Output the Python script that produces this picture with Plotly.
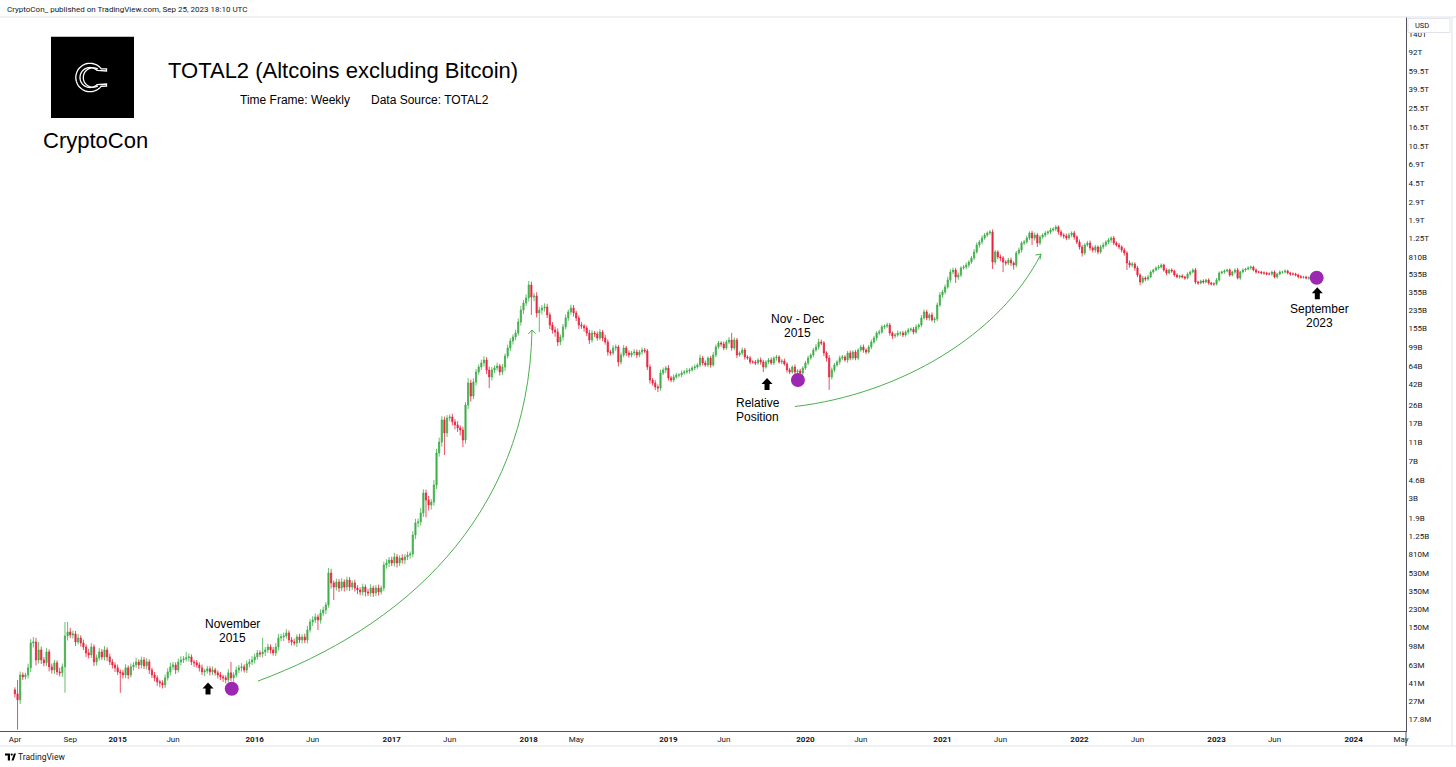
import numpy as np
import pandas as pd
import plotly.graph_objects as go

# ---------------- DATA (weekly TOTAL2, values in billions USD) ----------------
start_date = "2014-04-07"
first_open = 0.0352
close_b = [
    0.0321, 0.0279, 0.0498, 0.0476, 0.0498, 0.0586, 0.1045, 0.1070, 0.0705, 0.0889,
    0.0705, 0.0658, 0.0849, 0.0600, 0.0559, 0.0658, 0.0534, 0.0522, 0.0600, 0.1229,
    0.1349, 0.1258, 0.1288, 0.1070, 0.1174, 0.1045, 0.0953, 0.0829, 0.0792, 0.0953,
    0.0673, 0.0739, 0.0849, 0.0756, 0.0889, 0.0756, 0.0673, 0.0628, 0.0586, 0.0534,
    0.0522, 0.0498, 0.0586, 0.0498, 0.0600, 0.0628, 0.0673, 0.0628, 0.0705, 0.0614,
    0.0673, 0.0559, 0.0498, 0.0465, 0.0424, 0.0414, 0.0395, 0.0465, 0.0534, 0.0600,
    0.0628, 0.0559, 0.0673, 0.0705, 0.0722, 0.0739, 0.0756, 0.0673, 0.0658, 0.0628,
    0.0586, 0.0534, 0.0546, 0.0573, 0.0534, 0.0559, 0.0522, 0.0498, 0.0476, 0.0465,
    0.0444, 0.0522, 0.0465, 0.0498, 0.0559, 0.0586, 0.0600, 0.0559, 0.0643, 0.0673,
    0.0705, 0.0756, 0.0829, 0.0810, 0.0849, 0.0889, 0.0953, 0.0889, 0.0829, 0.0953,
    0.1174, 0.1201, 0.1229, 0.1318, 0.1120, 0.1070, 0.1045, 0.1201, 0.1120, 0.1201,
    0.1120, 0.1413, 0.170, 0.178, 0.191, 0.178, 0.209, 0.224, 0.252, 0.529,
    0.420, 0.382, 0.430, 0.373, 0.430, 0.382, 0.450, 0.382, 0.420, 0.373,
    0.357, 0.341, 0.382, 0.341, 0.333, 0.373, 0.333, 0.373, 0.341, 0.373,
    0.637, 0.667, 0.715, 0.667, 0.767, 0.667, 0.749, 0.715, 0.767, 0.803,
    0.821, 1.276, 1.69, 1.73, 2.13, 3.38, 2.87, 2.56, 2.74, 4.07,
    8.55, 11.0, 18.4, 13.6, 19.2, 19.7, 17.6, 16.4, 15.3, 14.6,
    11.55, 26.0, 43.3, 32.0, 44.3, 56.0, 62.8, 68.9, 73.9, 58.6,
    49.9, 58.6, 61.4, 64.3, 56.0, 62.8, 81.0, 97.6, 114.7, 125.9,
    138, 178, 235, 277, 311, 420, 318, 326, 220, 235,
    247, 252, 210, 166, 148, 141, 112, 126, 159, 196,
    225, 247, 220, 196, 166, 162, 155, 138, 117.4, 138,
    135, 123, 141, 123, 112, 88.9, 86.9, 97.6, 99.9, 70.6,
    82.9, 97.6, 86.9, 82.9, 86.9, 88.9, 82.9, 88.9, 93.1, 91.0,
    62.8, 46.4, 43.3, 39.5, 38.6, 54.7, 58.6, 61.4, 48.7, 46.4,
    49.9, 52.2, 52.2, 54.7, 56.0, 57.3, 58.6, 61.4, 62.8, 65.8,
    77.3, 68.9, 65.8, 77.3, 65.8, 82.9, 99.9, 109.5, 107, 97.6,
    112, 117.4, 97.6, 117.4, 82.9, 86.9, 93.1, 79.2, 77.3, 70.6,
    70.6, 68.9, 73.9, 70.6, 62.8, 70.6, 73.9, 68.9, 77.3, 79.2,
    70.6, 72.2, 67.4, 58.6, 56.0, 62.8, 56.0, 57.3, 54.7, 61.4,
    68.9, 77.3, 82.9, 93.1, 99.9, 112, 109.5, 86.9, 77.3, 49.9,
    58.6, 65.8, 70.6, 77.3, 79.2, 73.9, 86.9, 77.3, 88.9, 77.3,
    93.1, 99.9, 93.1, 88.9, 99.9, 112, 123, 138, 141, 159,
    162, 166, 138, 129, 131.8, 138, 138, 132, 141, 148,
    151, 141, 159, 166, 196, 225, 196, 210, 187, 191,
    264, 333, 357, 401, 472, 568, 595, 506, 530, 624,
    638, 668, 717, 786, 904, 1063, 1139, 1250, 1340, 1403,
    1437, 717, 904, 805, 786, 717, 700, 750, 700, 668,
    883, 946, 1113, 1139, 1250, 1403, 1250, 1340, 1113, 1280,
    1340, 1403, 1437, 1505, 1540, 1614, 1437, 1340, 1310, 1250,
    1340, 1403, 1280, 1139, 1015, 883, 1063, 1113, 992, 946,
    1015, 904, 1015, 1063, 1139, 1193, 1250, 1113, 1063, 1015,
    946, 883, 700, 668, 684, 624, 530, 451, 494, 483,
    506, 568, 595, 624, 638, 668, 595, 555, 595, 581,
    530, 506, 518, 506, 494, 542, 568, 595, 451, 440,
    461, 451, 472, 440, 430, 430, 472, 555, 568, 581,
    595, 530, 568, 595, 494, 568, 595, 609, 624, 638,
    595, 568, 568, 555, 555, 542, 542, 568, 506, 542,
    568, 568, 581, 555, 542, 542, 530, 510, 502, 505,
    495, 498, 492, 495, 493,
]
# upper / lower wick length of each weekly candle, percent of body edge
wick_up_pct = [
    6, 38, 8, 6, 5, 10, 9, 12, 10, 20,
    8, 7, 9, 6, 8, 7, 6, 10, 8, 38,
    26, 10, 8, 7, 9, 6, 8, 7, 10, 9,
    6, 8, 10, 7, 9, 6, 8, 7, 6, 8,
    6, 7, 9, 6, 8, 7, 10, 6, 8, 7,
    9, 6, 5, 7, 6, 5, 6, 8, 9, 10,
    7, 6, 8, 9, 7, 15, 8, 6, 5, 7,
    6, 8, 5, 7, 6, 8, 5, 6, 7, 5,
    6, 9, 29, 6, 8, 7, 9, 6, 8, 7,
    9, 8, 7, 6, 38, 7, 8, 6, 7, 9,
    10, 7, 8, 9, 6, 7, 8, 6, 7, 6,
    8, 10, 7, 9, 8, 6, 9, 8, 7, 12,
    10, 6, 8, 7, 9, 6, 8, 7, 6, 8,
    7, 6, 8, 6, 7, 9, 6, 7, 8, 6,
    8, 9, 7, 8, 10, 7, 6, 9, 7, 8,
    6, 9, 10, 8, 12, 9, 8, 10, 7, 12,
    10, 11, 9, 8, 7, 6, 8, 7, 9, 6,
    8, 7, 12, 8, 9, 7, 6, 8, 9, 7,
    8, 7, 6, 8, 5, 7, 6, 8, 7, 6,
    8, 9, 10, 7, 9, 10, 8, 7, 9, 8,
    7, 9, 8, 6, 7, 8, 9, 6, 7, 8,
    6, 8, 7, 5, 6, 7, 5, 6, 8, 7,
    5, 6, 7, 5, 8, 6, 5, 7, 6, 5,
    6, 7, 5, 6, 5, 7, 6, 5, 6, 5,
    5, 6, 5, 7, 6, 8, 6, 5, 7, 5,
    6, 5, 4, 6, 5, 7, 4, 5, 6, 4,
    8, 5, 6, 4, 5, 7, 6, 5, 4, 6,
    5, 7, 18, 6, 5, 4, 6, 5, 4, 5,
    4, 5, 4, 6, 5, 4, 5, 6, 4, 5,
    4, 5, 6, 4, 5, 4, 6, 4, 5, 4,
    5, 6, 4, 5, 7, 8, 6, 5, 4, 7,
    6, 5, 4, 6, 5, 4, 5, 6, 4, 5,
    4, 5, 6, 4, 5, 6, 5, 4, 6, 5,
    4, 6, 5, 4, 5, 6, 4, 5, 4, 5,
    4, 5, 6, 4, 7, 6, 5, 4, 6, 5,
    6, 7, 5, 6, 8, 7, 6, 5, 6, 4,
    5, 6, 4, 5, 7, 6, 5, 6, 5, 4,
    5, 6, 5, 4, 6, 5, 4, 5, 6, 4,
    5, 6, 4, 5, 6, 4, 5, 6, 5, 4,
    4, 5, 4, 5, 4, 5, 4, 5, 4, 6,
    5, 4, 5, 4, 6, 5, 4, 5, 6, 4,
    5, 4, 5, 6, 4, 5, 4, 5, 4, 5,
    4, 5, 4, 6, 5, 4, 5, 4, 5, 4,
    5, 4, 3, 4, 5, 4, 3, 4, 3, 4,
    3, 4, 3, 4, 3, 4, 3, 4, 5, 3,
    3, 4, 3, 4, 3, 4, 5, 4, 3, 4,
    3, 4, 3, 4, 5, 3, 4, 3, 4, 3,
    3, 4, 3, 3, 4, 3, 4, 3, 4, 3,
    4, 3, 4, 3, 3, 4, 3, 3, 4, 3,
    3, 3, 4, 3, 3,
]
wick_dn_pct = [
    8, 50, 9, 7, 6, 8, 9, 10, 12, 8,
    9, 8, 7, 10, 8, 9, 7, 8, 9, 45,
    10, 7, 8, 9, 6, 8, 7, 9, 8, 7,
    9, 8, 6, 7, 8, 9, 7, 8, 9, 7,
    37, 8, 7, 9, 6, 8, 7, 9, 8, 7,
    8, 9, 7, 8, 9, 10, 8, 7, 6, 8,
    7, 9, 6, 8, 7, 6, 8, 7, 9, 6,
    8, 7, 9, 6, 8, 7, 6, 8, 7, 9,
    8, 6, 7, 9, 6, 7, 8, 6, 7, 8,
    7, 8, 6, 7, 8, 9, 7, 8, 6, 7,
    8, 7, 9, 6, 7, 8, 6, 9, 7, 8,
    7, 8, 6, 9, 7, 21, 8, 7, 9, 6,
    12, 26, 8, 9, 7, 10, 8, 9, 7, 8,
    9, 7, 8, 10, 7, 8, 9, 7, 8, 6,
    7, 8, 9, 7, 8, 10, 7, 8, 9, 7,
    8, 7, 9, 10, 8, 9, 33, 12, 10, 8,
    9, 8, 10, 40, 9, 7, 8, 10, 9, 12,
    15, 8, 9, 12, 7, 8, 6, 7, 8, 9,
    23, 8, 7, 6, 8, 7, 9, 6, 7, 8,
    7, 6, 8, 9, 7, 8, 34, 9, 10, 36,
    10, 8, 7, 9, 8, 10, 9, 7, 8, 6,
    7, 6, 8, 7, 9, 6, 8, 7, 9, 6,
    7, 6, 5, 7, 6, 8, 6, 5, 7, 10,
    6, 5, 7, 6, 5, 6, 7, 5, 6, 5,
    7, 8, 6, 7, 9, 6, 5, 7, 6, 5,
    5, 4, 6, 5, 4, 5, 6, 4, 5, 4,
    5, 6, 4, 5, 6, 4, 5, 4, 6, 5,
    4, 5, 6, 5, 7, 4, 5, 6, 4, 5,
    4, 5, 4, 6, 11, 4, 5, 4, 5, 6,
    4, 5, 4, 6, 5, 4, 5, 6, 4, 5,
    4, 5, 4, 5, 4, 6, 5, 7, 8, 26,
    6, 5, 4, 6, 5, 4, 6, 5, 4, 5,
    5, 4, 6, 5, 4, 5, 4, 6, 5, 4,
    5, 4, 6, 7, 5, 4, 6, 5, 4, 5,
    4, 5, 4, 6, 5, 4, 5, 6, 4, 7,
    5, 4, 6, 5, 4, 6, 5, 13, 6, 5,
    4, 5, 6, 4, 5, 4, 6, 5, 4, 5,
    4, 15, 6, 5, 7, 21, 6, 5, 7, 10,
    5, 4, 6, 5, 4, 5, 15, 6, 9, 5,
    4, 5, 4, 5, 4, 5, 6, 5, 6, 5,
    4, 5, 6, 5, 6, 8, 5, 4, 6, 5,
    6, 5, 4, 5, 4, 5, 6, 5, 4, 5,
    5, 6, 15, 6, 5, 6, 5, 7, 4, 5,
    4, 3, 4, 3, 4, 3, 4, 5, 3, 4,
    4, 3, 4, 3, 4, 3, 4, 3, 5, 4,
    3, 4, 3, 4, 3, 4, 3, 4, 3, 4,
    3, 4, 3, 4, 3, 4, 3, 4, 3, 4,
    3, 4, 3, 3, 4, 3, 3, 4, 3, 4,
    3, 4, 3, 3, 4, 3, 3, 4, 3, 3,
    3, 4, 3, 3, 3,
]

ytick_vals = [0.0178, 0.027, 0.041, 0.063, 0.098, 0.15, 0.23, 0.35, 0.53, 0.81,
              1.25, 1.9, 3, 4.6, 7, 11, 17, 26, 42, 64, 99, 155, 235, 355, 535, 810,
              1250, 1900, 2900, 4500, 6900, 10500, 16500, 25500, 39500, 59500, 92000, 140000]
ytick_text = ["17.8M", "27M", "41M", "63M", "98M", "150M", "230M", "350M", "530M", "810M",
              "1.25B", "1.9B", "3B", "4.6B", "7B", "11B", "17B", "26B", "42B", "64B", "99B",
              "155B", "235B", "355B", "535B", "810B", "1.25T", "1.9T", "2.9T", "4.5T", "6.9T",
              "10.5T", "16.5T", "25.5T", "39.5T", "59.5T", "92T", "140T"]
xtick_dates = ["2014-04-07", "2014-09-01", "2015-01-05", "2015-06-01", "2016-01-04", "2016-06-06",
               "2017-01-02", "2017-06-05", "2018-01-01", "2018-05-07", "2019-01-07", "2019-06-03",
               "2020-01-06", "2020-06-01", "2021-01-04", "2021-06-07", "2022-01-03", "2022-06-06",
               "2023-01-02", "2023-06-05", "2024-01-01", "2024-05-06"]
xtick_text = ["Apr", "Sep", "2015", "Jun", "2016", "Jun", "2017", "Jun", "2018", "May", "2019", "Jun",
              "2020", "Jun", "2021", "Jun", "2022", "Jun", "2023", "Jun", "2024", "May"]

# annotation content
label_text = ["November", "2015", "Nov - Dec", "2015", "Relative", "Position", "September", "2023"]
label_dates = ["2015-11-06", "2015-11-06", "2019-12-16 17:00", "2019-12-16 17:00",
               "2019-09-01 10:00", "2019-09-01 10:00", "2023-10-02", "2023-10-02"]
label_vals = [0.1621, 0.1172, 191.1, 138.1, 27.56, 19.92, 240.9, 174.1]
dot_dates = ["2015-11-04", "2019-12-17", "2023-09-25"]
dot_vals = [0.0361, 46.4, 498]
arrow_dates = ["2015-09-02", "2019-09-25 22:00", "2023-09-26 17:00"]
arrow_vals = [0.0316, 36.8, 302]
curve_dates = ["2016-01-12 19:00", "2019-12-09 05:00"]
curve_vals = [0.0432, 25.1]

# ---------------- BUILD OHLC ----------------
n = len(close_b)
dates = pd.date_range(start_date, periods=n, freq="7D")
close = np.array(close_b, dtype=float)
opens = np.concatenate([[first_open], close[:-1]])
up = np.array(wick_up_pct[:n], dtype=float) / 100.0
dn = np.array(wick_dn_pct[:n], dtype=float) / 100.0
high = np.maximum(opens, close) * (1 + up)
low = np.minimum(opens, close) * (1 - dn)

GREEN = "#3fae49"
RED = "#e8233f"
TXT = "#131722"

W, H = 1456, 767
ML, MR, MT, MB = 0, 50, 17, 36
PW, PH = W - ML - MR, H - MT - MB


def pxx(x):
    return (x - ML) / PW


def pxy(y):
    return (H - MB - y) / PH


fig = go.Figure()
fig.add_trace(go.Candlestick(
    x=dates, open=opens, high=high, low=low, close=close,
    increasing=dict(line=dict(color=GREEN, width=0.8), fillcolor=GREEN),
    decreasing=dict(line=dict(color=RED, width=0.8), fillcolor=RED),
    whiskerwidth=0, showlegend=False, hoverinfo="skip",
))
fig.add_trace(go.Scatter(
    x=pd.to_datetime(dot_dates), y=dot_vals, mode="markers",
    marker=dict(size=14, color="#9c27b0", line=dict(width=0)),
    showlegend=False, hoverinfo="skip", cliponaxis=False,
))

shapes = []
annos = []

# black up arrows (pixel-sized, anchored to data)
arrow_path = "M -2.5,0 L -2.5,6 L -5.5,6 L 0,12 L 5.5,6 L 2.5,6 L 2.5,0 Z"
for d, v in zip(arrow_dates, arrow_vals):
    shapes.append(dict(type="path", xref="x", yref="y", xsizemode="pixel", ysizemode="pixel",
                       xanchor=d, yanchor=v, path=arrow_path, fillcolor="black",
                       line=dict(width=0), layer="above"))

# green curved arrows
curve_paths = [("M 0,0 C 142,52.5 270,161 274,351", "M 270.3,347 L 274,351 L 277.7,347.5"),
               ("M 0,0 C 105,12.5 205,71.5 246,152.5", "M 240.5,151.5 L 246,152.5 L 245,147")]
for (d, v), (body, head) in zip(zip(curve_dates, curve_vals), curve_paths):
    for p in (body, head):
        shapes.append(dict(type="path", xref="x", yref="y", xsizemode="pixel", ysizemode="pixel",
                           xanchor=d, yanchor=v, path=p, fillcolor="rgba(0,0,0,0)",
                           line=dict(color="#4caf50", width=1), layer="above"))

# texts on chart
for t, d, v in zip(label_text, label_dates, label_vals):
    annos.append(dict(x=d, y=float(np.log10(v)), xref="x", yref="y", text=t, showarrow=False,
                      xanchor="center", yanchor="middle",
                      font=dict(family="Liberation Sans, Arial", size=12, color="black")))

# ---- header / logo ----
shapes.append(dict(type="rect", xref="paper", yref="paper", x0=pxx(51), x1=pxx(134),
                   y0=pxy(118), y1=pxy(36.7), fillcolor="black", line=dict(width=0), layer="above"))


def arc(cx, cy, r, a0, a1, k=48):
    a = np.radians(np.linspace(a0, a1, k))
    return [(cx + r * np.cos(t), cy + r * np.sin(t)) for t in a]


def to_path(pts, close_it=False):
    s = "M " + " L ".join(f"{x:.2f},{y:.2f}" for x, y in pts)
    return s + (" Z" if close_it else "")


c_outline = ([(7.07, 7.07), (16.5, 6.5), (16.5, 8.7)] + arc(0, 0, 14.2, 38, 322) +
             [(16.5, -8.7), (16.5, -6.5)] + arc(0, 0, 10, 315, 45))
for p in (to_path(c_outline, True), to_path(arc(3, 0, 9.7, 60, 300))):
    shapes.append(dict(type="path", xref="paper", yref="paper", xsizemode="pixel", ysizemode="pixel",
                       xanchor=pxx(90), yanchor=pxy(77.5), path=p, fillcolor="rgba(0,0,0,0)",
                       line=dict(color="white", width=1.3), layer="above"))

# separators / frame
shapes.append(dict(type="line", xref="paper", yref="paper", x0=pxx(0), x1=pxx(1456), y0=pxy(17), y1=pxy(17),
                   line=dict(color="#e0e3eb", width=1), layer="above"))
shapes.append(dict(type="line", xref="paper", yref="paper", x0=pxx(0), x1=pxx(1456), y0=pxy(746), y1=pxy(746),
                   line=dict(color="#e0e3eb", width=1), layer="above"))
shapes.append(dict(type="line", xref="paper", yref="paper", x0=pxx(1406), x1=pxx(1406), y0=pxy(731), y1=pxy(746),
                   line=dict(color="#50535e", width=1), layer="above"))
shapes.append(dict(type="line", xref="paper", yref="paper", x0=pxx(1452), x1=pxx(1452), y0=pxy(17), y1=pxy(746),
                   line=dict(color="#e0e3eb", width=1), layer="above"))
# USD box
shapes.append(dict(type="rect", xref="paper", yref="paper", x0=pxx(1408), x1=pxx(1450),
                   y0=pxy(32.5), y1=pxy(18.5), fillcolor="white", line=dict(color="#e0e3eb", width=1),
                   layer="above"))
# TradingView logo mark
tv_paths = ["M -5,3.5 L 0,3.5 L 0,-3.5 L -2.2,-3.5 L -2.2,1.5 L -5,1.5 Z",
            "M 1.5,-3.5 L 3.6,-3.5 L 6,3.5 L 3.9,3.5 Z"]
for p in tv_paths:
    shapes.append(dict(type="path", xref="paper", yref="paper", xsizemode="pixel", ysizemode="pixel",
                       xanchor=pxx(10), yanchor=pxy(757), path=p, fillcolor="black",
                       line=dict(width=0), layer="above"))
shapes.append(dict(type="circle", xref="paper", yref="paper", xsizemode="pixel", ysizemode="pixel",
                   xanchor=pxx(10), yanchor=pxy(757), x0=0.6, x1=2.8, y0=1.3, y1=3.5,
                   fillcolor="black", line=dict(width=0), layer="above"))


def paper_text(x, y, text, size, anchor="left", family="Liberation Sans, Arial", color="black"):
    annos.append(dict(x=pxx(x), y=pxy(y), xref="paper", yref="paper", text=text, showarrow=False,
                      xanchor=anchor, yanchor="middle", font=dict(family=family, size=size, color=color)))


paper_text(5, 9, "CryptoCon_ published on TradingView.com, Sep 25, 2023 18:10 UTC", 8,
           family="Roboto, Liberation Sans", color=TXT)
paper_text(95, 140, "CryptoCon", 22, anchor="center")
paper_text(166, 71, "TOTAL2 (Altcoins excluding Bitcoin)", 22)
paper_text(238, 100, "Time Frame: Weekly", 12)
paper_text(369, 100, "Data Source: TOTAL2", 12)
paper_text(1413, 25.5, "USD", 7.5, family="Roboto, Liberation Sans", color=TXT)
paper_text(16, 757, "TradingView", 8.5, family="Roboto, Liberation Sans", color=TXT)

fig.update_layout(
    width=W, height=H,
    margin=dict(l=ML, r=MR, t=MT, b=MB, pad=0),
    paper_bgcolor="white", plot_bgcolor="white",
    showlegend=False, boxgap=0.35, dragmode=False,
    shapes=shapes, annotations=annos,
    xaxis=dict(
        type="date", range=["2014-02-26 10:05", "2024-05-19 07:00"],
        rangeslider=dict(visible=False),
        showgrid=False, zeroline=False, showline=True, linecolor="#50535e", linewidth=1,
        ticks="", tickvals=pd.to_datetime(xtick_dates),
        ticktext=[f"<b>{t}</b>" if t.isdigit() else t for t in xtick_text],
        tickfont=dict(family="Roboto, Liberation Sans", size=8, color=TXT),
    ),
    yaxis=dict(
        type="log", range=[-1.86784, 5.32249], side="right",
        showgrid=False, zeroline=False, showline=True, linecolor="#50535e", linewidth=1,
        ticks="", tickvals=ytick_vals, ticktext=ytick_text,
        tickfont=dict(family="Roboto, Liberation Sans", size=8, color=TXT),
    ),
)

fig.write_html("out.html", include_plotlyjs=True, full_html=True,
               config={"displayModeBar": False, "staticPlot": True},
               post_script="document.body.style.margin='0';document.body.style.overflow='hidden';")
